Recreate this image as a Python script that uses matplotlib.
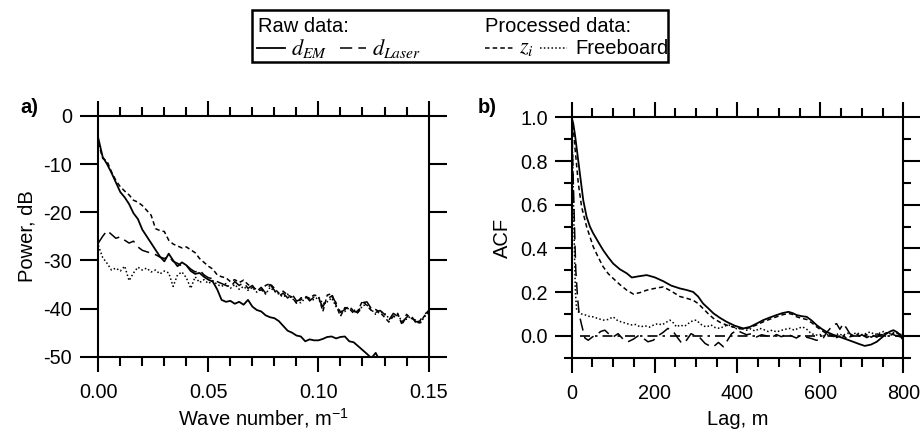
import numpy as np
import matplotlib
matplotlib.use('Agg')
import matplotlib.pyplot as plt
from matplotlib.lines import Line2D
from matplotlib.patches import Rectangle
from matplotlib.ticker import MultipleLocator, FixedLocator

plt.rcParams['font.family'] = ['Liberation Sans', 'DejaVu Sans']
plt.rcParams['mathtext.fontset'] = 'stix'
plt.rcParams['axes.unicode_minus'] = False

# ---- panel a: power spectra (dB) vs wave number ----
k = np.round(np.arange(0, 0.1505, 0.002), 3)

p_em = [-4.6, -8.5, -10.0, -11.8, -13.8, -15.8, -16.9, -18.3, -20.2, -21.4,
        -23.6, -25.0, -26.4, -27.8, -29.2, -30.2, -28.6, -30.0, -31.2, -30.4,
        -31.0, -32.2, -32.8, -32.6, -33.4, -34.0, -34.4, -36.0, -38.2, -38.6,
        -38.4, -39.0, -38.6, -39.2, -38.2, -39.6, -40.3, -40.6, -41.4, -41.8,
        -42.0, -42.6, -43.6, -44.6, -45.0, -45.6, -45.8, -46.8, -46.4, -46.6,
        -46.6, -46.3, -45.9, -45.8, -46.2, -45.9, -45.8, -46.8, -47.0, -47.8,
        -48.6, -49.4, -50.3, -49.2, -51.0]

p_laser = [-26.4, -25.0, -23.8, -24.6, -25.4, -25.1, -25.8, -26.4, -26.0, -27.2,
           -27.9, -28.2, -28.5, -28.8, -29.3, -29.6, -29.2, -30.2, -30.6, -31.2,
           -31.0, -31.8, -32.4, -32.0, -33.0, -33.6, -33.8, -34.4, -34.8, -35.2,
           -35.6, -34.4, -35.2, -34.6, -35.8, -35.2, -36.4, -35.6, -36.8, -35.0,
           -36.2, -37.4, -36.8, -37.8, -37.0, -38.4, -38.2, -37.2, -38.4, -37.6,
           -38.0, -39.6, -38.0, -37.4, -38.8, -40.8, -40.2, -39.4, -40.6, -40.8,
           -38.8, -38.6, -40.0, -40.8, -40.4, -41.2, -42.4, -41.0, -41.6, -43.0,
           -41.8, -41.4, -42.8, -42.6, -41.2, -40.6]

p_zi = [-5.5, -8.8, -9.4, -11.6, -13.4, -14.7, -15.6, -16.4, -17.5, -17.9,
        -18.6, -19.6, -20.6, -23.4, -23.8, -24.0, -25.8, -26.6, -27.0, -27.4,
        -27.2, -27.8, -28.4, -29.6, -30.4, -31.2, -31.8, -33.0, -33.4, -33.6,
        -34.4, -34.0, -34.6, -34.1, -35.0, -35.6, -36.0, -36.2, -35.2, -34.8,
        -35.8, -36.8, -36.4, -37.2, -37.6, -38.9, -37.8, -37.6, -37.8, -37.2,
        -37.4, -40.6, -37.2, -36.9, -39.3, -41.6, -39.8, -40.0, -41.0, -40.4,
        -38.4, -39.4, -40.4, -40.2, -40.8, -41.8, -42.8, -41.6, -41.0, -43.4,
        -41.2, -42.0, -42.4, -43.0, -41.6, -40.4]

p_fb = [-26.9, -29.4, -30.6, -32.0, -31.6, -32.2, -31.2, -34.2, -32.6, -31.4,
        -32.0, -31.6, -32.4, -32.0, -32.8, -32.2, -32.6, -35.4, -33.0, -32.4,
        -33.6, -35.8, -33.4, -34.6, -34.0, -34.8, -34.2, -35.0, -35.4, -34.8,
        -35.8, -35.0, -36.0, -35.4, -36.2, -35.6, -36.6, -36.0, -37.0, -35.6,
        -36.4, -37.0, -37.6, -37.0, -38.0, -38.4, -38.8, -37.8, -38.0, -38.2,
        -37.6, -39.0, -38.6, -37.8, -39.6, -40.6, -40.6, -39.8, -40.2, -41.0,
        -39.4, -39.2, -40.2, -41.2, -40.6, -41.0, -42.0, -41.8, -41.4, -42.6,
        -42.2, -41.6, -42.4, -43.2, -41.8, -40.8]

# ---- panel b: autocorrelation vs lag ----
lag_em = [0, 4, 8, 12, 16, 20, 28, 36, 44, 52, 64, 76, 88, 100, 116, 133, 145, 160, 181, 200,
          221, 240, 261, 277, 293, 305, 317, 330, 342, 358, 374, 394, 414, 430, 446, 462, 478,
          494, 508, 523, 533, 543, 555, 567, 579, 591, 603, 615, 631, 647, 663, 679, 693, 707,
          722, 736, 748, 760, 768, 776, 784, 792, 800]
acf_em = [1.0, 0.97, 0.92, 0.86, 0.8, 0.74, 0.62, 0.545, 0.5, 0.469, 0.43, 0.392, 0.36, 0.331,
          0.305, 0.286, 0.267, 0.272, 0.278, 0.268, 0.25, 0.23, 0.217, 0.21, 0.201, 0.18, 0.148,
          0.125, 0.103, 0.082, 0.064, 0.046, 0.034, 0.041, 0.056, 0.072, 0.084, 0.095, 0.104,
          0.11, 0.104, 0.095, 0.09, 0.087, 0.07, 0.049, 0.032, 0.018, 0.005, -0.005, -0.016,
          -0.027, -0.037, -0.046, -0.04, -0.027, -0.008, 0.011, 0.02, 0.026, 0.018, 0.003, -0.02]

lag_zi = [0, 4, 8, 12, 16, 24, 36, 52, 64, 76, 88, 100, 116, 133, 149, 165, 181, 200, 221, 240,
          261, 277, 293, 305, 317, 330, 342, 358, 374, 394, 414, 430, 446, 462, 478, 494, 508,
          523, 533, 543, 555, 567, 579, 591, 603, 615, 627, 639, 651, 663, 675, 687, 699, 711,
          723, 735, 747, 759, 771, 781, 791, 800]
acf_zi = [1.0, 0.95, 0.86, 0.78, 0.698, 0.59, 0.5, 0.408, 0.36, 0.316, 0.285, 0.263, 0.235,
          0.209, 0.191, 0.198, 0.209, 0.217, 0.224, 0.205, 0.18, 0.172, 0.163, 0.148, 0.125,
          0.1, 0.08, 0.062, 0.049, 0.038, 0.03, 0.038, 0.05, 0.064, 0.076, 0.087, 0.096, 0.103,
          0.098, 0.087, 0.08, 0.075, 0.06, 0.041, 0.025, 0.01, 0.0, -0.008, 0.004, -0.01,
          -0.002, 0.008, -0.004, 0.006, -0.006, 0.01, 0.002, 0.014, 0.004, 0.02, 0.008, -0.01]

lag_fb = [0, 3, 6, 9, 12, 16, 24, 34, 44, 52, 62, 76, 88, 100, 112, 124, 133, 145, 155, 165,
          177, 188, 197, 208, 218, 228, 237, 245, 253, 262, 270, 277, 285, 293, 301, 310, 318,
          326, 336, 346, 358, 368, 380, 390, 400, 410, 422, 432, 442, 454, 464, 474, 484, 494,
          504, 514, 527, 537, 547, 557, 567, 577, 588, 599, 610, 621, 632, 643, 654, 665, 676,
          687, 698, 709, 720, 731, 742, 753, 764, 775, 786, 800]
acf_fb = [1.0, 0.75, 0.45, 0.2, 0.118, 0.11, 0.1, 0.095, 0.088, 0.087, 0.08, 0.072, 0.075,
          0.087, 0.068, 0.062, 0.056, 0.05, 0.052, 0.041, 0.046, 0.04, 0.049, 0.056, 0.05,
          0.062, 0.072, 0.06, 0.041, 0.05, 0.044, 0.049, 0.062, 0.07, 0.072, 0.055, 0.045,
          0.041, 0.05, 0.038, 0.034, 0.045, 0.049, 0.04, 0.03, 0.036, 0.026, 0.032, 0.022,
          0.034, 0.028, 0.02, 0.026, 0.018, 0.024, 0.03, 0.034, 0.026, 0.035, 0.041, 0.03,
          0.012, 0.003, 0.006, 0.0, 0.008, -0.004, 0.01, 0.002, 0.012, 0.004, 0.015, 0.005,
          0.01, 0.018, 0.006, 0.012, 0.02, 0.008, 0.016, 0.01, 0.004]

lag_la = [0, 2, 4, 6, 8, 10, 14, 18, 24, 32, 40, 50, 60, 70, 80, 90, 100, 112, 124, 136,
          149, 160, 172, 184, 197, 208, 220, 232, 245, 256, 266, 277, 288, 298, 310, 322, 332,
          342, 354, 366, 376, 386, 398, 410, 422, 434, 446, 458, 470, 482, 494, 506, 518, 530,
          542, 554, 566, 578, 590, 600, 607, 615, 624, 632, 639, 647, 655, 663, 671, 680, 690,
          700, 712, 724, 736, 748, 760, 772, 784, 800]
acf_la = [1.0, 0.85, 0.7, 0.56, 0.42, 0.3, 0.18, 0.1, 0.05, -0.01, -0.02, -0.005, 0.005, 0.02,
          0.026, 0.008, -0.005, 0.01, -0.015, -0.027, -0.015, 0.0, -0.01, -0.027, -0.02, 0.0,
          0.015, 0.034, 0.02, -0.01, -0.035, -0.02, 0.01, 0.0, -0.01, -0.035, -0.045, -0.05,
          -0.03, -0.05, -0.02, 0.01, 0.026, 0.015, 0.005, 0.01, -0.005, 0.005, 0.0, -0.008,
          0.006, -0.004, 0.008, 0.0, -0.01, 0.004, -0.006, -0.012, -0.02, -0.02, -0.01, 0.015,
          0.035, 0.05, 0.056, 0.03, 0.056, 0.035, 0.01, 0.0, -0.005, 0.005, -0.008, 0.004,
          -0.006, 0.006, -0.004, 0.008, 0.0, -0.008]

# line styles
st_em = dict(color='black', lw=1.3, linestyle='-')
st_la = dict(color='black', lw=1.1, linestyle=(0, (8, 4)))
st_zi = dict(color='black', lw=1.1, linestyle=(0, (3, 2)))
st_fb = dict(color='black', lw=1.1, linestyle=(0, (1, 1.5)))

fig = plt.figure(figsize=(9.21, 4.38), dpi=100)
ax1 = fig.add_axes([0.1067, 0.1856, 0.3586, 0.5496])
ax2 = fig.add_axes([0.6207, 0.1833, 0.3601, 0.5489])


def style_axes(ax):
    for s in ax.spines.values():
        s.set_linewidth(1.5)
    ax.tick_params(which='both', direction='out', top=True, right=True,
                   labeltop=False, labelright=False, width=1.5, labelsize=14.3)
    ax.tick_params(axis='x', which='major', length=11, pad=8)
    ax.tick_params(axis='x', which='minor', length=6.5)


# panel a
ax1.plot(k[:len(p_em)], p_em, **st_em)
ax1.plot(k, p_laser, **st_la)
ax1.plot(k, p_zi, **st_zi)
ax1.plot(k, p_fb, **st_fb)
ax1.set_xlim(0, 0.15)
ax1.set_ylim(-50, 0)
style_axes(ax1)
ax1.xaxis.set_major_locator(FixedLocator([0, 0.05, 0.10, 0.15]))
ax1.set_xticklabels(['0.00', '0.05', '0.10', '0.15'])
ax1.xaxis.set_minor_locator(MultipleLocator(0.01))
ax1.yaxis.set_major_locator(MultipleLocator(10))
ax1.tick_params(axis='y', which='major', length=13, pad=6)
ax1.set_xlabel(r'Wave number, m$^{\mathregular{-1}}$', fontsize=14.5, labelpad=3)
ax1.set_ylabel('Power, dB', fontsize=14.5, labelpad=5)
fig.text(0.022, 0.755, 'a)', fontsize=14.5, fontweight='bold', ha='left', va='center')

# panel b
ax2.plot([20, 800], [0, 0], color='black', lw=1.2, linestyle=(0, (6, 3, 1.5, 3)))
ax2.plot(lag_em, acf_em, **st_em)
ax2.plot(lag_la, acf_la, **st_la)
ax2.plot(lag_zi, acf_zi, **st_zi)
ax2.plot(lag_fb, acf_fb, **st_fb)
ax2.set_xlim(0, 800)
ax2.set_ylim(-0.1, 1.0)
style_axes(ax2)
ax2.xaxis.set_major_locator(MultipleLocator(200))
ax2.xaxis.set_minor_locator(MultipleLocator(50))
ax2.yaxis.set_major_locator(FixedLocator([0.0, 0.2, 0.4, 0.6, 0.8, 1.0]))
ax2.set_yticklabels(['0.0', '0.2', '0.4', '0.6', '0.8', '1.0'])
ax2.yaxis.set_minor_locator(FixedLocator([-0.1, 0.1, 0.3, 0.5, 0.7, 0.9]))
ax2.tick_params(axis='y', which='major', length=12, pad=5)
ax2.tick_params(axis='y', which='minor', length=6)
ax2.set_xlabel('Lag, m', fontsize=14.5, labelpad=5)
ax2.set_ylabel('ACF', fontsize=14.5, labelpad=6)
fig.text(0.519, 0.755, 'b)', fontsize=14.5, fontweight='bold', ha='left', va='center')

# legend box on top
W, H = 921.0, 438.0
fx = lambda px: px / W
fy = lambda py: 1 - py / H
fig.patches.append(Rectangle((fx(252), fy(62)), fx(668) - fx(252), fy(10) - fy(62),
                             transform=fig.transFigure, fill=False, lw=1.8, ec='black'))
fig.text(fx(258), fy(27), 'Raw data:', fontsize=14.5, va='center')
fig.text(fx(485), fy(27), 'Processed data:', fontsize=14.5, va='center')
ry = fy(48)
fig.lines.append(Line2D([fx(257), fx(285)], [ry, ry], transform=fig.transFigure, **st_em))
fig.text(fx(291), ry, r'$d_{EM}$', fontsize=16, va='center')
fig.lines.append(Line2D([fx(340), fx(366)], [ry, ry], transform=fig.transFigure, **st_la))
fig.text(fx(372), ry, r'$d_{Laser}$', fontsize=16, va='center')
fig.lines.append(Line2D([fx(485), fx(513)], [ry, ry], transform=fig.transFigure, **st_zi))
fig.text(fx(519), ry, r'$z_i$', fontsize=16, va='center')
fig.lines.append(Line2D([fx(540), fx(567)], [ry, ry], transform=fig.transFigure, **st_fb))
fig.text(fx(575), ry, 'Freeboard', fontsize=14.5, va='center')

fig.savefig('out.png', dpi=100)
